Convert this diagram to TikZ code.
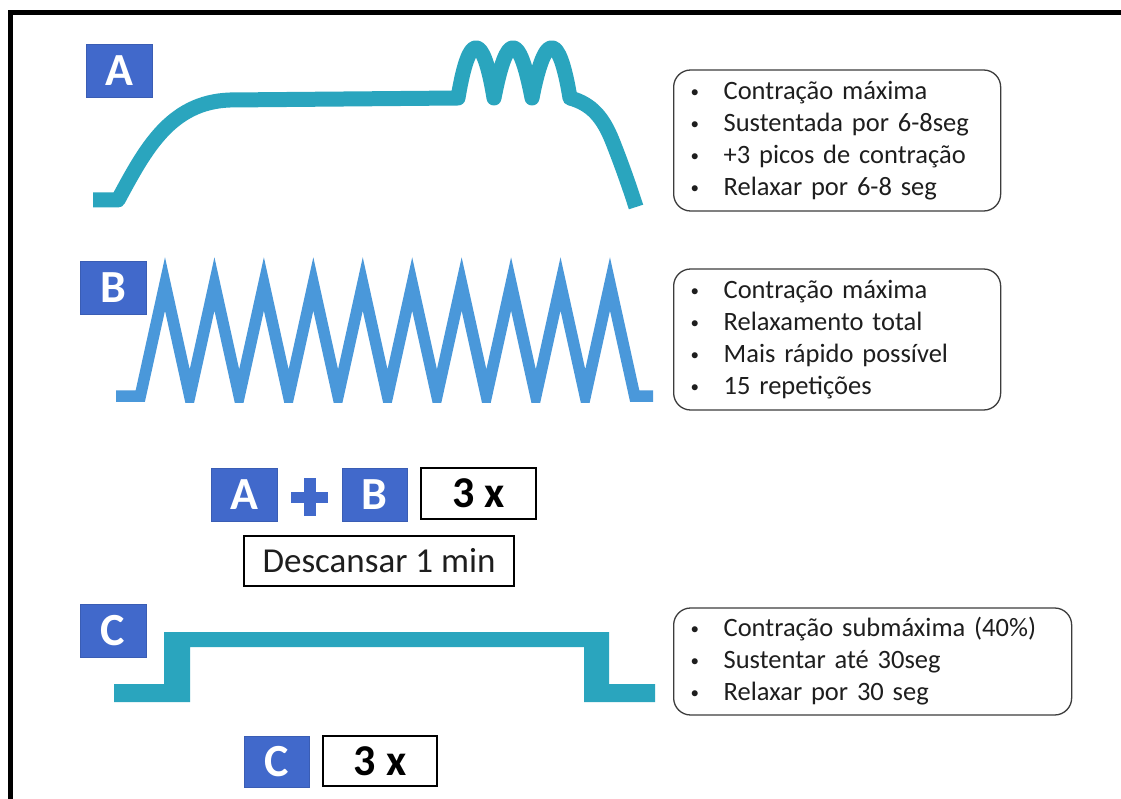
\documentclass[tikz,border=0pt]{standalone}
\usepackage{fontspec}
\setmainfont{Carlito}
\definecolor{labelblue}{HTML}{4169CB}
\definecolor{labeledge}{HTML}{3A5DB4}
\definecolor{tealline}{HTML}{2AA5BE}
\definecolor{wave}{HTML}{4A98DA}
\definecolor{ink}{HTML}{1E1E1E}
\definecolor{boxedge}{HTML}{3C3C3C}
% small list bullet followed by the gap before the item text
\newcommand\itm{\makebox[35pt][l]{\hspace{2pt}\raisebox{2pt}{\fontsize{17}{17}\selectfont •}}}
\begin{document}
\begin{tikzpicture}[x=1pt,y=-1pt,
  lbl/.style={fill=labelblue, draw=labeledge, line width=0.8, text=white,
    font=\fontsize{46}{50}\selectfont\bfseries, inner sep=0,
    minimum width=66, minimum height=53},
  countbox/.style={draw=black, line width=1.5, fill=white, text=black,
    font=\fontsize{44}{48}\selectfont\bfseries, inner sep=0,
    minimum height=51},
  restbox/.style={draw=black, line width=1.3, fill=white, text=ink,
    font=\fontsize{35}{40}\selectfont, inner sep=0,
    minimum width=270, minimum height=50},
  notebox/.style={draw=boxedge, line width=1.3, rounded corners=17,
    align=left, inner xsep=15, inner ysep=0, anchor=west, text=ink,
    font=\fontsize{26.5}{32}\selectfont},
  curveA/.style={tealline, line width=15, line cap=butt, line join=round},
  waveB/.style={wave, line width=11.5, line cap=butt, line join=miter}]

\useasboundingbox (0,0) rectangle (1121,799);
\fill[white] (0,0) rectangle (1121,799);

% outer frame (open towards right and bottom)
\draw[line width=4.5, line join=miter] (10.5,799) -- (10.5,12.5) -- (1121,12.5);

% ---------- A: sustained contraction with three peaks ----------
\node[lbl] (labA) at (119,70.5) {A};
\draw[curveA] (93,200) -- (118,200)
  .. controls (145,150) and (170,102) .. (230,100) -- (458,98)
  .. controls (469,31) and (483,31) .. (494,98)
  .. controls (507,31) and (519,31) .. (532,98)
  .. controls (545,31) and (559,31) .. (570,98)
  .. controls (592,104) and (603,118) .. (612,140)
  .. controls (620,160) and (629,185) .. (636,207);
\node[notebox, text width=297, minimum height=141] (noteA) at (673,140.5)
  {\itm Contração máxima\\
   \itm Sustentada por 6-8seg\\
   \itm +3 picos de contração\\
   \itm Relaxar por 6-8 seg};

% ---------- B: fast contractions ----------
\node[lbl] (labB) at (113,287.5) {B};
\begin{scope}
  \clip (100,240) rectangle (670,402);
  \draw[waveB] (116,396) -- (140.3,396)
    \foreach \k in {0,...,9} { -- ({165+49.44*\k},284) -- ({189.72+49.44*\k},396) }
    -- (653,396);
\end{scope}
\node[notebox, text width=297, minimum height=141] (noteB) at (673,339.5)
  {\itm Contração máxima\\
   \itm Relaxamento total\\
   \itm Mais rápido possível\\
   \itm 15 repetições};

% ---------- A + B, repeat and rest ----------
\node[lbl] (smA) at (244,494.5) {A};
\fill[labelblue] (291,492) rectangle (328,503);
\fill[labelblue] (303.5,478) rectangle (315.5,516);
\node[lbl, minimum width=65] (smB) at (374.5,494.5) {B};
\node[countbox, minimum width=115] (repAB) at (478.5,493.5) {3 x};
\node[restbox] (rest) at (379,561) {Descansar 1 min};

% ---------- C: submaximal sustained contraction ----------
\node[lbl] (labC) at (113,630.5) {C};
\fill[tealline] (114,684) -- (164,684) -- (164,632) -- (609,632) -- (609,684)
  -- (655,684) -- (655,702) -- (584,702) -- (584,647) -- (190,647)
  -- (190,702) -- (114,702) -- cycle;
\node[notebox, text width=368, minimum height=107] (noteC) at (673,661.5)
  {\itm Contração submáxima (40\%)\\
   \itm Sustentar até 30seg\\
   \itm Relaxar por 30 seg};

\node[lbl, minimum width=65, minimum height=51] (smC) at (276.5,761.5) {C};
\node[countbox, minimum width=114, minimum height=50] (repC) at (380,761) {3 x};
\end{tikzpicture}
\end{document}
